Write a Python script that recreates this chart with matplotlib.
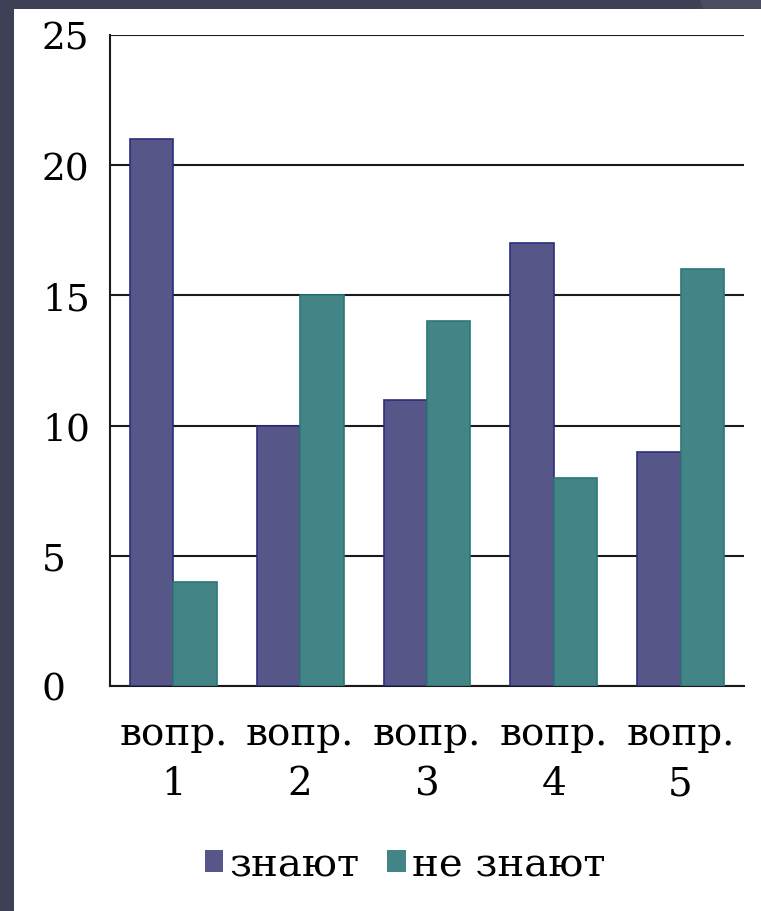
import matplotlib.pyplot as plt
import matplotlib.patches as mpatches
import numpy as np

categories = ["вопр.\n1", "вопр.\n2", "вопр.\n3", "вопр.\n4", "вопр.\n5"]
know = [21, 10, 11, 17, 9]
dont_know = [4, 15, 14, 8, 16]
series_names = ["знают", "не знают"]
y_ticks = [0, 5, 10, 15, 20, 25]

plt.rcParams['font.family'] = ['DejaVu Serif']

fig = plt.figure(figsize=(7.61, 9.12), dpi=100)
fig.patch.set_facecolor('#3e4055')
# lighter corner of the slide frame
fig.patches.append(mpatches.Polygon([(700 / 761, 1), (1, 1), (1, 1 - 10 / 912), (703 / 761, 1 - 10 / 912)],
                                    transform=fig.transFigure, facecolor='#4a4c5f',
                                    edgecolor='none', zorder=-6))
# white slide panel
fig.patches.append(mpatches.Rectangle((14 / 761, 0), 1, (912 - 10) / 912,
                                      transform=fig.transFigure, facecolor='white',
                                      edgecolor='none', zorder=-5))

ax = fig.add_axes([110 / 761, 1 - 687 / 912, (744 - 110) / 761, (687 - 36) / 912])
ax.set_facecolor('white')

x = np.arange(len(categories))
width = 0.343
ax.bar(x - width / 2, know, width, color='#565688', edgecolor='#2d2d7d',
       linewidth=1.2, label=series_names[0], zorder=3)
ax.bar(x + width / 2, dont_know, width, color='#438486', edgecolor='#2b7777',
       linewidth=1.2, label=series_names[1], zorder=3)

ax.set_xlim(-0.5, len(categories) - 0.5)
ax.set_ylim(0, 25)
ax.set_yticks(y_ticks)
ax.set_yticklabels([str(v) for v in y_ticks], ha='left')
ax.yaxis.grid(True, color='#1a1a1a', linewidth=1.5, zorder=0)
ax.set_axisbelow(True)
ax.tick_params(axis='y', length=0, pad=49, labelsize=27)
ax.set_xticks(x)
ax.set_xticklabels(categories, linespacing=1.45)
ax.tick_params(axis='x', length=0, pad=21, labelsize=28)

for side in ['top', 'right']:
    ax.spines[side].set_visible(False)
ax.spines['left'].set_color('#1a1a1a')
ax.spines['bottom'].set_color('#1a1a1a')
ax.spines['left'].set_linewidth(1.5)
ax.spines['bottom'].set_linewidth(1.5)

leg = fig.legend(*ax.get_legend_handles_labels(), loc='center',
                 bbox_to_anchor=(405 / 761, 1 - 866 / 912), ncol=2, frameon=False,
                 fontsize=29, handlelength=0.45, handleheight=0.45, handletextpad=0.15,
                 columnspacing=0.7, borderpad=0, borderaxespad=0)
for h in leg.legend_handles:
    h.set_linewidth(0)

fig.savefig('out.png', dpi=100, facecolor=fig.get_facecolor())
